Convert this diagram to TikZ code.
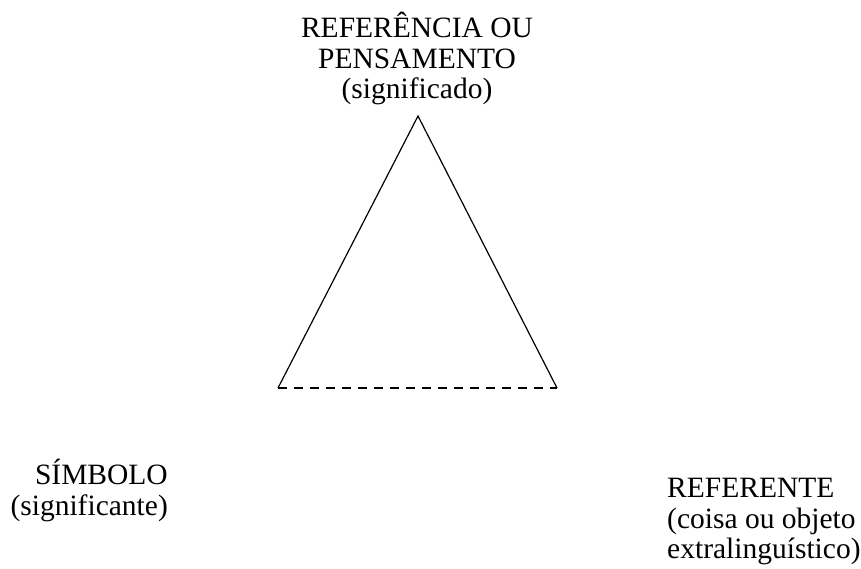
\documentclass[tikz,border=0pt]{standalone}
\usepackage{fontspec}
\setmainfont{Liberation Serif}
\usepackage{tikz}
\usetikzlibrary{positioning}

\begin{document}
\begin{tikzpicture}[x=1pt, y=1pt, lbl/.style={inner sep=0pt, font=\fontsize{29.5}{30.5}\selectfont}, side/.style={line width=1.2pt}]
		\useasboundingbox (0,0) rectangle (861,568);
		\coordinate (apex) at (418,452);
		\coordinate (left) at (278,180);
		\coordinate (right) at (557,180);

		\node (thought) [lbl, align=center, anchor=north] at (417,556) {REFERÊNCIA OU\\PENSAMENTO\\(significado)};
		\node (symbol) [lbl, align=right, anchor=north east] at (168,109) {SÍMBOLO\\(significante)};
		\node (referent) [lbl, align=left, anchor=north west] at (667,90) {REFERENTE\\(coisa ou objeto\\extralinguístico)};

		\draw[side] (left) -- (apex) -- (right);
		\draw[side, dash pattern=on 9pt off 7pt] (left) -- (right);

	\end{tikzpicture}
\end{document}
